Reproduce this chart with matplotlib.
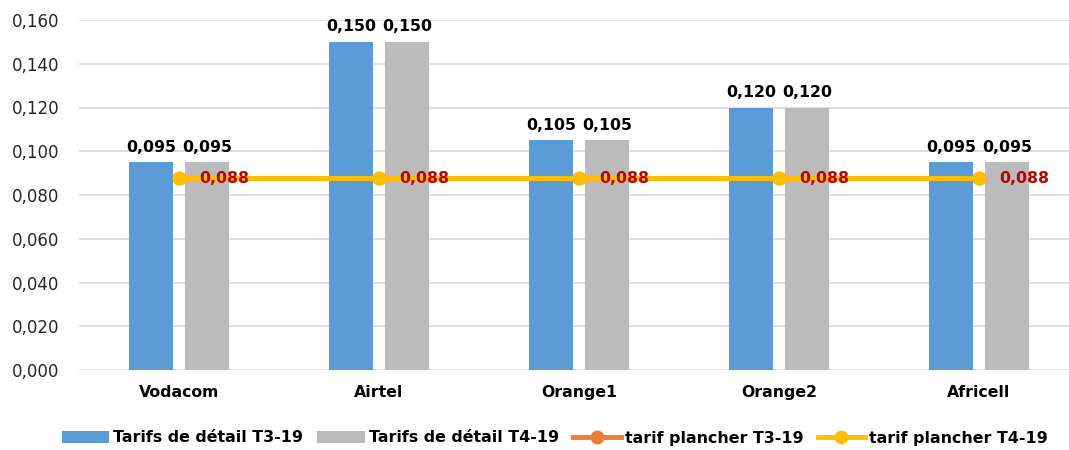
import numpy as np
import matplotlib.pyplot as plt
from matplotlib.ticker import FuncFormatter

# data
operators = ['Vodacom', 'Airtel', 'Orange1', 'Orange2', 'Africell']
tarif_t3 = [0.095, 0.150, 0.105, 0.120, 0.095]
tarif_t4 = [0.095, 0.150, 0.105, 0.120, 0.095]
plancher_t3 = [0.088, 0.088, 0.088, 0.088, 0.088]
plancher_t4 = [0.088, 0.088, 0.088, 0.088, 0.088]


def fr(v, decimals=3):
    return f'{v:.{decimals}f}'.replace('.', ',')


plt.rcParams['font.family'] = ['DejaVu Sans']

fig = plt.figure(figsize=(10.69, 4.5), dpi=100)
ax = fig.add_axes([79/1069, 80/450, 990/1069, 350/450])

x = np.arange(len(operators))
w = 0.22
off = 0.14

b1 = ax.bar(x - off, tarif_t3, w, color='#5B9BD5', label='Tarifs de détail T3-19', zorder=2)
b2 = ax.bar(x + off, tarif_t4, w, color='#BBBBBB', label='Tarifs de détail T4-19', zorder=2)
l1, = ax.plot(x, plancher_t3, color='#ED7D31', lw=3.5, marker='o', ms=9,
              label='tarif plancher T3-19', zorder=3)
l2, = ax.plot(x, plancher_t4, color='#FFC000', lw=3.5, marker='o', ms=9,
              label='tarif plancher T4-19', zorder=4)

for xi, v in zip(x - off, tarif_t3):
    ax.text(xi, v + 0.0035, fr(v), ha='center', va='bottom', fontsize=11.3, fontweight='bold')
for xi, v in zip(x + off, tarif_t4):
    ax.text(xi, v + 0.0035, fr(v), ha='center', va='bottom', fontsize=11.3, fontweight='bold')
for xi, v in zip(x, plancher_t4):
    ax.text(xi + 0.1, v - 0.0004, fr(v), ha='left', va='center', fontsize=11.3,
            fontweight='bold', color='#C00000', zorder=5)

ax.set_ylim(0, 0.16)
ax.set_xlim(-0.5, 4.45)
ax.set_yticks(np.arange(0, 0.161, 0.02))
ax.yaxis.set_major_formatter(FuncFormatter(lambda v, p: fr(v)))
ax.set_xticks(x)
ax.set_xticklabels(operators, fontsize=11.3, fontweight='bold')
ax.tick_params(axis='y', labelsize=12, length=0, pad=14, colors='#262626')
ax.tick_params(axis='x', length=0, pad=11)
ax.grid(axis='y', color='#D9D9D9', lw=1.2, zorder=0)
ax.set_axisbelow(True)
for s in ax.spines.values():
    s.set_visible(False)

fig.legend(handles=[b1, b2, l1, l2], loc='center', bbox_to_anchor=(0.519, 1 - 438/450),
           ncol=4, frameon=False, prop={'size': 11.4, 'weight': 'bold'},
           handlelength=3.0, handletextpad=0.25, columnspacing=0.9)

plt.savefig('out.png')
